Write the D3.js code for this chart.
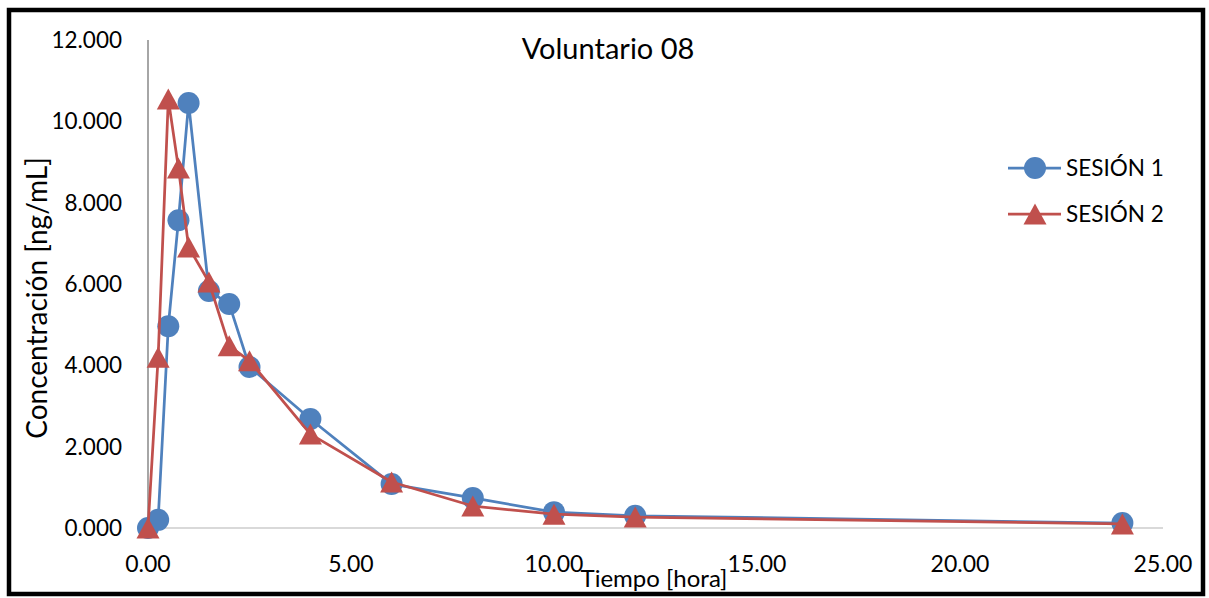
<!DOCTYPE html>
<html>
<head>
<meta charset="utf-8">
<script src="https://cdn.jsdelivr.net/npm/d3@7"></script>
<style>
  html, body { margin: 0; padding: 0; background: #fff; }
  svg { display: block; }
  text { font-family: Lato, "Open Sans", sans-serif; fill: #000; }
</style>
</head>
<body>
<svg id="chart" width="1209" height="598"></svg>
<script>
// Sampling times (hours)
const times = [0, 0.25, 0.5, 0.75, 1, 1.5, 2, 2.5, 4, 6, 8, 10, 12, 24];
// Plasma concentration (ng/mL) per session
const sesion1 = [0, 0.20, 4.96, 7.57, 10.45, 5.83, 5.51, 3.96, 2.68, 1.08, 0.74, 0.39, 0.30, 0.12];
const sesion2 = [0, 4.20, 10.55, 8.85, 6.91, 6.05, 4.48, 4.11, 2.31, 1.13, 0.54, 0.34, 0.27, 0.10];
const seriesNames = ["SESIÓN 1", "SESIÓN 2"];
const xTicks = [0, 5, 10, 15, 20, 25];
const yTicks = [0, 2, 4, 6, 8, 10, 12];
const chartTitle = "Voluntario 08";
const xTitle = "Tiempo [hora]";
const yTitle = "Concentración [ng/mL]";

const blue = "#4F81BD", red = "#C0504D";

const svg = d3.select("#chart");
const x = d3.scaleLinear().domain([0, 25]).range([148, 1163]);
const y = d3.scaleLinear().domain([0, 12]).range([528, 40]);

// outer frame
svg.append("rect").attr("x", 9).attr("y", 10).attr("width", 1194).attr("height", 584)
  .attr("fill", "#fff").attr("stroke", "#000").attr("stroke-width", 4.5);

// zero baseline
svg.append("line").attr("x1", x(0)).attr("x2", x(25)).attr("y1", y(0)).attr("y2", y(0))
  .attr("stroke", "#d9d9d9").attr("stroke-width", 2);

// vertical axis line
svg.append("line").attr("x1", x(0)).attr("x2", x(0)).attr("y1", y(12)).attr("y2", y(0))
  .attr("stroke", "#898989").attr("stroke-width", 1.5);

// y tick labels
const fy = d3.format(".3f");
svg.append("g").selectAll("text").data(yTicks).join("text")
  .attr("x", 122).attr("y", d => y(d)).attr("dy", "0.36em")
  .attr("text-anchor", "end").attr("font-size", 22.5)
  .text(d => fy(d));

// x tick labels
const fx = d3.format(".2f");
svg.append("g").selectAll("text").data(xTicks).join("text")
  .attr("x", d => x(d)).attr("y", 572)
  .attr("text-anchor", "middle").attr("font-size", 23)
  .text(d => fx(d));

// titles
svg.append("text").attr("x", 608).attr("y", 59).attr("text-anchor", "middle")
  .attr("font-size", 29).text(chartTitle);
svg.append("text").attr("x", 654).attr("y", 587).attr("text-anchor", "middle")
  .attr("font-size", 24).text(xTitle);
svg.append("text").attr("transform", "translate(47,298) rotate(-90)")
  .attr("text-anchor", "middle").attr("font-size", 28).text(yTitle);

const tri = "M0,-10.5L11.5,10.5L-11.5,10.5Z";

const line = d3.line().x(d => x(d[0])).y(d => y(d[1]));
const series = [
  { name: seriesNames[0], values: sesion1, color: blue, shape: "circle" },
  { name: seriesNames[1], values: sesion2, color: red, shape: "triangle" }
];

function marker(g, s, cx, cy) {
  if (s.shape === "circle") {
    g.append("circle").attr("cx", cx).attr("cy", cy).attr("r", 11).attr("fill", s.color);
  } else {
    g.append("path").attr("d", tri).attr("transform", `translate(${cx},${cy})`).attr("fill", s.color);
  }
}

series.forEach(s => {
  const pts = times.map((t, i) => [t, s.values[i]]);
  const g = svg.append("g");
  g.append("path").datum(pts).attr("d", line).attr("fill", "none")
    .attr("stroke", s.color).attr("stroke-width", 2.75).attr("stroke-linejoin", "round");
  pts.forEach(p => marker(g, s, x(p[0]), y(p[1])));
});

// legend
const lg = svg.append("g");
series.forEach((s, i) => {
  const cy = 168 + i * 46;
  lg.append("line").attr("x1", 1008).attr("x2", 1061).attr("y1", cy).attr("y2", cy)
    .attr("stroke", s.color).attr("stroke-width", 2.75);
  marker(lg, s, 1035, cy);
  lg.append("text").attr("x", 1066).attr("y", cy).attr("dy", "0.36em")
    .attr("font-size", 22.5).text(s.name);
});
</script>
</body>
</html>
